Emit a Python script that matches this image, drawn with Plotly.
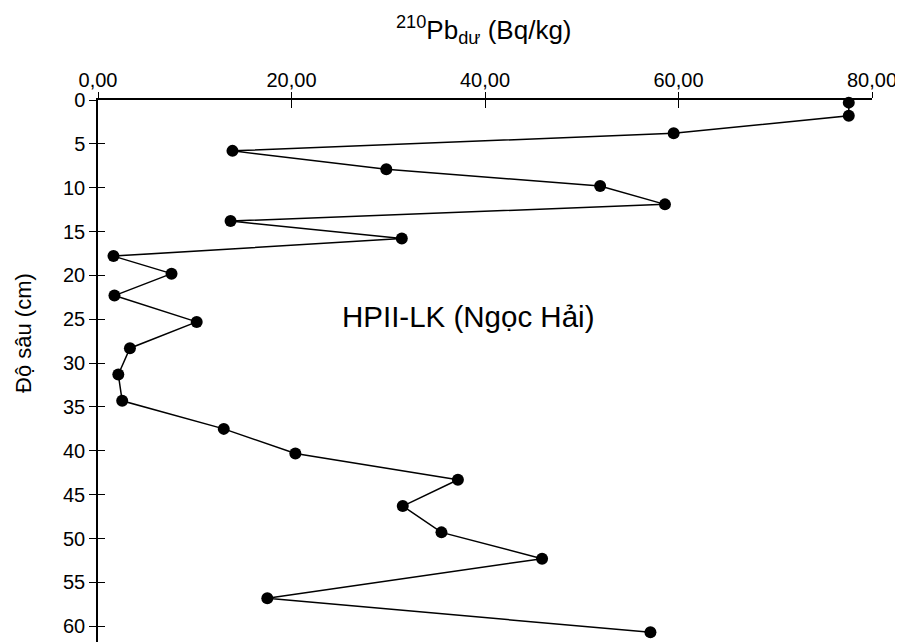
import plotly.graph_objects as go

# Data
depth_cm = [0.3, 1.8, 3.8, 5.8, 7.9, 9.8, 11.9, 13.8, 15.8, 17.8, 19.8, 22.3,
            25.3, 28.3, 31.3, 34.3, 37.5, 40.3, 43.3, 46.3, 49.3, 52.3, 56.8, 60.7]
pb210_ex = [77.6, 77.6, 59.5, 13.9, 29.8, 51.9, 58.6, 13.7, 31.4, 1.6, 7.6, 1.7,
            10.2, 3.3, 2.1, 2.5, 13.0, 20.4, 37.2, 31.5, 35.5, 45.9, 17.5, 57.1]

x_tickvals = [0, 20, 40, 60, 80]
x_ticktext = ["0,00", "20,00", "40,00", "60,00", "80,00"]
y_tickvals = list(range(0, 61, 5))
y_ticktext = [str(v) for v in y_tickvals]

FONT = "Liberation Sans, Arial, sans-serif"

fig = go.Figure()
fig.add_trace(go.Scatter(
    x=pb210_ex, y=depth_cm, mode="lines+markers",
    line=dict(color="black", width=1.5),
    marker=dict(color="black", size=12),
    showlegend=False, cliponaxis=False,
))
# invisible twin trace so the crossing-tick overlay axes are drawn
fig.add_trace(go.Scatter(
    x=pb210_ex, y=depth_cm, xaxis="x2", yaxis="y2", mode="markers",
    marker=dict(opacity=0), hoverinfo="skip", showlegend=False,
))

axis_common = dict(showgrid=False, zeroline=False, tickcolor="black", tickwidth=1,
                   automargin=False)

# page body has an 8px default margin, so the figure is sized to fit the window
fig.update_layout(
    width=895, height=634,
    margin=dict(l=90, r=31, t=92, b=0, autoexpand=False),
    paper_bgcolor="white", plot_bgcolor="white",
    font=dict(family=FONT, color="black"),
    xaxis=dict(side="top", range=[0, 80], tickvals=x_tickvals, ticktext=x_ticktext,
               ticks="outside", ticklen=6, showline=True, linecolor="black", linewidth=1.5,
               ticklabelstandoff=-3,
               tickfont=dict(size=20, family=FONT, color="black"), anchor="y", **axis_common),
    xaxis2=dict(side="top", overlaying="x", range=[0, 80], tickvals=x_tickvals,
                ticks="inside", ticklen=8, showticklabels=False, showline=False,
                anchor="y", **axis_common),
    yaxis=dict(range=[61.8, 0], tickvals=y_tickvals, ticktext=y_ticktext,
               ticks="outside", ticklen=7, showline=True, linecolor="black", linewidth=1.5,
               tickfont=dict(size=20, family=FONT, color="black"), anchor="x", **axis_common),
    yaxis2=dict(overlaying="y", side="left", range=[61.8, 0], tickvals=y_tickvals,
                ticks="inside", ticklen=7, showticklabels=False, showline=False,
                anchor="x", **axis_common),
    annotations=[
        dict(text="<sup>210</sup>Pb<sub>dư</sub> (Bq/kg)", xref="paper", yref="paper",
             x=0.4987, y=1.13, xanchor="center", yanchor="middle", showarrow=False,
             font=dict(size=26, family=FONT, color="black")),
        dict(text="Độ sâu (cm)", xref="paper", yref="paper", x=-0.097, y=0.570,
             textangle=-90, xanchor="center", yanchor="middle", showarrow=False,
             font=dict(size=22, family=FONT, color="black")),
        dict(text="HPII-LK (Ngọc Hải)", xref="x", yref="y", x=38.2, y=24.7,
             xanchor="center", yanchor="middle", showarrow=False,
             font=dict(size=29.5, family=FONT, color="black")),
    ],
)

fig.write_html("out.html")
